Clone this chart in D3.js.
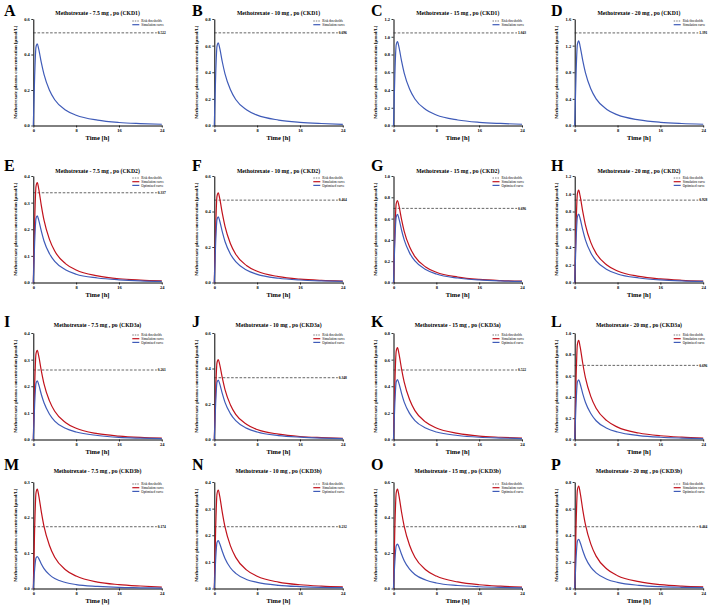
<!DOCTYPE html>
<html>
<head>
<meta charset="utf-8">
<script src="https://cdn.jsdelivr.net/npm/d3@7"></script>
<style>
body { margin: 0; background: #fff; }
svg { display: block; }
text { font-family: "Liberation Serif", "Times New Roman", serif; }
</style>
</head>
<body>
<svg id="chart" width="708" height="614"></svg>
<script>
// panel meta
var letters = ['A','B','C','D','E','F','G','H','I','J','K','L','M','N','O','P'];
var doses = ['7.5', '10', '15', '20'];
var stages = ['CKD1', 'CKD2', 'CKD3a', 'CKD3b'];
var thresholds = [0.522, 0.696, 1.043, 1.391,
                  0.337, 0.464, 0.696, 0.928,
                  0.261, 0.348, 0.522, 0.696,
                  0.174, 0.232, 0.348, 0.464];
var yMax = [0.6, 0.8, 1.2, 1.6,
            0.4, 0.6, 1.0, 1.2,
            0.4, 0.6, 0.8, 1.0,
            0.3, 0.4, 0.6, 0.8];
var yStep = [0.2, 0.2, 0.2, 0.4,
             0.1, 0.2, 0.2, 0.2,
             0.1, 0.2, 0.2, 0.2,
             0.1, 0.1, 0.2, 0.2];
var xTicks = [0, 8, 16, 24];
var legendNames = ['Risk thresholds', 'Simulation curve', 'Optimized curve'];

// sampling times [h]
var hours = [0, 0.25, 0.5, 0.75, 1, 1.5, 2, 3, 4, 6, 8, 12, 16, 20, 24];

// simulation curves (umol/L)
var simA = [0, 0.276, 0.442, 0.46, 0.432, 0.354, 0.288, 0.200, 0.145, 0.087, 0.058, 0.030, 0.017, 0.011, 0.007];
var simB = [0, 0.372, 0.595, 0.62, 0.583, 0.477, 0.388, 0.270, 0.195, 0.118, 0.078, 0.041, 0.024, 0.015, 0.009];
var simC = [0, 0.567, 0.907, 0.945, 0.888, 0.728, 0.591, 0.411, 0.298, 0.180, 0.118, 0.062, 0.036, 0.023, 0.014];
var simD = [0, 0.762, 1.219, 1.27, 1.194, 0.978, 0.794, 0.552, 0.400, 0.241, 0.159, 0.084, 0.048, 0.030, 0.019];
var simE = [0, 0.225, 0.360, 0.375, 0.353, 0.289, 0.234, 0.163, 0.118, 0.071, 0.047, 0.025, 0.014, 0.009, 0.006];
var simF = [0, 0.303, 0.485, 0.505, 0.475, 0.389, 0.316, 0.220, 0.159, 0.096, 0.063, 0.033, 0.019, 0.012, 0.008];
var simG = [0, 0.462, 0.739, 0.77, 0.724, 0.593, 0.481, 0.335, 0.243, 0.146, 0.096, 0.051, 0.029, 0.018, 0.012];
var simH = [0, 0.624, 0.998, 1.04, 0.978, 0.801, 0.650, 0.452, 0.328, 0.198, 0.130, 0.069, 0.040, 0.025, 0.016];
var simI = [0, 0.201, 0.322, 0.335, 0.315, 0.258, 0.209, 0.146, 0.106, 0.064, 0.042, 0.022, 0.013, 0.008, 0.005];
var simJ = [0, 0.270, 0.432, 0.45, 0.423, 0.347, 0.281, 0.196, 0.142, 0.086, 0.056, 0.030, 0.017, 0.011, 0.007];
var simK = [0, 0.414, 0.662, 0.69, 0.649, 0.531, 0.431, 0.300, 0.217, 0.131, 0.086, 0.046, 0.026, 0.017, 0.010];
var simL = [0, 0.558, 0.893, 0.93, 0.874, 0.716, 0.581, 0.405, 0.293, 0.177, 0.116, 0.061, 0.035, 0.022, 0.014];
var simM = [0, 0.168, 0.269, 0.28, 0.263, 0.216, 0.175, 0.122, 0.088, 0.053, 0.035, 0.018, 0.011, 0.007, 0.004];
var simN = [0, 0.222, 0.355, 0.37, 0.348, 0.285, 0.231, 0.161, 0.117, 0.070, 0.046, 0.024, 0.014, 0.009, 0.006];
var simO = [0, 0.336, 0.538, 0.56, 0.526, 0.431, 0.350, 0.244, 0.176, 0.106, 0.070, 0.037, 0.021, 0.013, 0.008];
var simP = [0, 0.462, 0.739, 0.77, 0.724, 0.593, 0.481, 0.335, 0.243, 0.146, 0.096, 0.051, 0.029, 0.018, 0.012];

// optimized curves (CKD2 and worse)
var optE = [0, 0.150, 0.240, 0.25, 0.235, 0.193, 0.156, 0.109, 0.079, 0.048, 0.031, 0.017, 0.010, 0.006, 0.004];
var optF = [0, 0.222, 0.355, 0.37, 0.348, 0.285, 0.231, 0.161, 0.117, 0.070, 0.046, 0.024, 0.014, 0.009, 0.006];
var optG = [0, 0.384, 0.614, 0.64, 0.602, 0.493, 0.400, 0.278, 0.202, 0.122, 0.080, 0.042, 0.024, 0.015, 0.010];
var optH = [0, 0.462, 0.739, 0.77, 0.724, 0.593, 0.481, 0.335, 0.243, 0.146, 0.096, 0.051, 0.029, 0.018, 0.012];
var optI = [0, 0.132, 0.211, 0.22, 0.207, 0.169, 0.138, 0.096, 0.069, 0.042, 0.028, 0.015, 0.008, 0.005, 0.003];
var optJ = [0, 0.201, 0.322, 0.335, 0.315, 0.258, 0.209, 0.146, 0.106, 0.064, 0.042, 0.022, 0.013, 0.008, 0.005];
var optK = [0, 0.270, 0.432, 0.45, 0.423, 0.347, 0.281, 0.196, 0.142, 0.086, 0.056, 0.030, 0.017, 0.011, 0.007];
var optL = [0, 0.336, 0.538, 0.56, 0.526, 0.431, 0.350, 0.244, 0.176, 0.106, 0.070, 0.037, 0.021, 0.013, 0.008];
var optM = [0, 0.054, 0.086, 0.09, 0.085, 0.069, 0.056, 0.039, 0.028, 0.017, 0.011, 0.006, 0.003, 0.002, 0.001];
var optN = [0, 0.108, 0.173, 0.18, 0.169, 0.139, 0.113, 0.078, 0.057, 0.034, 0.023, 0.012, 0.007, 0.004, 0.003];
var optO = [0, 0.150, 0.240, 0.25, 0.235, 0.193, 0.156, 0.109, 0.079, 0.048, 0.031, 0.017, 0.010, 0.006, 0.004];
var optP = [0, 0.222, 0.355, 0.37, 0.348, 0.285, 0.231, 0.161, 0.117, 0.070, 0.046, 0.024, 0.014, 0.009, 0.006];

var simulation = [simA, simB, simC, simD, simE, simF, simG, simH, simI, simJ, simK, simL, simM, simN, simO, simP];
var optimized = [null, null, null, null, optE, optF, optG, optH, optI, optJ, optK, optL, optM, optN, optO, optP];

var BLUE = '#3f5bb8';
var RED = '#c1121c';

// layout
var colLeft = [33.3, 214.3, 393.5, 574.7];
var letterX = [4, 192, 371, 551];
var rowTop = [19, 176, 333, 482];
var letterBase = [15.5, 170.5, 327, 469.5];
var titleBase = [15, 172.5, 327, 473];
var plotWidth = 128.5;
var plotHeight = 106.5;

var svg = d3.select('#chart');

letters.forEach(function(letter, i) {
    var row = Math.floor(i / 4), col = i % 4;
    var x0 = colLeft[col], y0 = rowTop[row];

    var x = d3.scaleLinear().domain([0, 24]).range([0, plotWidth]);
    var y = d3.scaleLinear().domain([0, yMax[i]]).range([plotHeight, 0]);

    svg.append('text')
        .attr('x', letterX[col]).attr('y', letterBase[row])
        .attr('font-size', 16).attr('font-weight', 'bold')
        .text(letter);

    svg.append('text')
        .attr('x', x0 + plotWidth / 2).attr('y', titleBase[row])
        .attr('text-anchor', 'middle')
        .attr('font-size', 5.7).attr('font-weight', 'bold')
        .text('Methotrexate - ' + doses[col] + ' mg , po (' + stages[row] + ')');

    var g = svg.append('g').attr('transform', 'translate(' + x0 + ',' + y0 + ')');

    // axes
    var yTicks = d3.range(0, yMax[i] + yStep[i] / 2, yStep[i]);
    var yAxis = g.append('g')
        .call(d3.axisLeft(y).tickValues(yTicks).tickFormat(d3.format('.1f'))
            .tickSize(2).tickSizeOuter(0).tickPadding(1.5));
    var xAxis = g.append('g')
        .attr('transform', 'translate(0,' + plotHeight + ')')
        .call(d3.axisBottom(x).tickValues(xTicks)
            .tickSize(2).tickSizeOuter(0).tickPadding(1.5));
    [yAxis, xAxis].forEach(function(ax) {
        ax.select('.domain').attr('stroke', '#000').attr('stroke-width', 1);
        ax.selectAll('.tick line').attr('stroke', '#000').attr('stroke-width', 0.8);
        ax.selectAll('.tick text')
            .attr('font-family', '"Liberation Serif", serif')
            .attr('font-size', 4.5).attr('font-weight', 'bold').attr('fill', '#000');
    });

    g.append('text')
        .attr('x', plotWidth / 2).attr('y', plotHeight + 14)
        .attr('text-anchor', 'middle')
        .attr('font-size', 6.5).attr('font-weight', 'bold')
        .text('Time [h]');

    g.append('text')
        .attr('transform', 'translate(-16.5,' + (plotHeight / 2) + ') rotate(-90)')
        .attr('text-anchor', 'middle')
        .attr('font-size', 4.85).attr('font-weight', 'bold')
        .text('Methotrexate plasma concentration [\u00b5mol/L]');

    // risk threshold
    g.append('line')
        .attr('x1', 0).attr('x2', plotWidth - 5)
        .attr('y1', y(thresholds[i])).attr('y2', y(thresholds[i]))
        .attr('stroke', '#222').attr('stroke-width', 0.7)
        .attr('stroke-dasharray', '2.6,1.6');
    g.append('text')
        .attr('x', plotWidth - 4).attr('y', y(thresholds[i]) + 1.2)
        .attr('font-size', 3.6).attr('font-weight', 'bold')
        .text(thresholds[i].toFixed(3));

    var line = d3.line()
        .x(function(d, k) { return x(hours[k]); })
        .y(function(d) { return y(d); })
        .curve(d3.curveMonotoneX);

    var hasOpt = optimized[i] !== null;
    g.append('path')
        .attr('d', line(simulation[i]))
        .attr('fill', 'none')
        .attr('stroke', hasOpt ? RED : BLUE)
        .attr('stroke-width', 1.2);
    if (hasOpt) {
        g.append('path')
            .attr('d', line(optimized[i]))
            .attr('fill', 'none')
            .attr('stroke', BLUE)
            .attr('stroke-width', 1.2);
    }

    // legend
    var items = hasOpt ? [0, 1, 2] : [0, 1];
    var lg = g.append('g').attr('transform', 'translate(' + (plotWidth - 29.5) + ',2)');
    items.forEach(function(k, j) {
        var ly = j * 3.7;
        var color = k === 0 ? '#222' : (k === 1 ? (hasOpt ? RED : BLUE) : BLUE);
        lg.append('line')
            .attr('x1', 0).attr('x2', 7)
            .attr('y1', ly).attr('y2', ly)
            .attr('stroke', color)
            .attr('stroke-width', k === 0 ? 0.6 : 1.2)
            .attr('stroke-dasharray', k === 0 ? '1.5,1' : null);
        lg.append('text')
            .attr('x', 9).attr('y', ly + 1.1)
            .attr('font-size', 3.3)
            .text(legendNames[k]);
    });
});
</script>
</body>
</html>
